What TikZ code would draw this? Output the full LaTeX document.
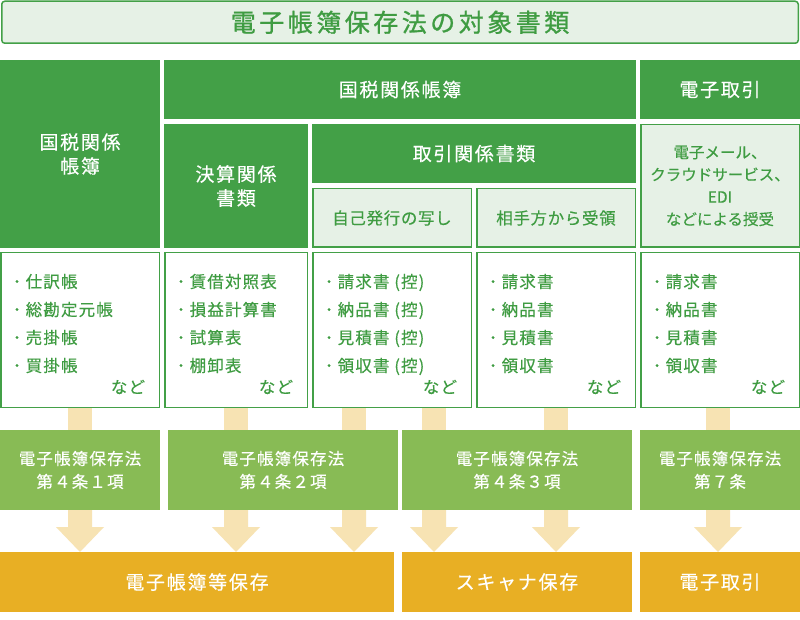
\documentclass[tikz,border=0pt]{standalone}
\usepackage{fontspec}
\setmainfont{Noto Sans CJK JP}[FakeBold=0.4]
\newfontfamily\fttitle[LetterSpace=14,FakeBold=1]{Noto Sans CJK JP}
\newfontfamily\fthead[LetterSpace=9,FakeBold=0.4]{Noto Sans CJK JP}
\newfontfamily\ftbody[LetterSpace=7,FakeBold=0.4]{Noto Sans CJK JP}
\newfontfamily\ftsub[LetterSpace=4,FakeBold=0.4]{Noto Sans CJK JP}
\usetikzlibrary{calc}
\pgfdeclarelayer{background}
\pgfsetlayers{background,main}
\definecolor{dkgreen}{HTML}{43A047}
\definecolor{txtgreen}{HTML}{3F9C42}
\definecolor{ltfill}{HTML}{E6F1E6}
\definecolor{ltgreen}{HTML}{88BB55}
\definecolor{orangec}{HTML}{E8AF24}
\definecolor{tanc}{HTML}{F7E3B3}
\newcommand\fatarrow[3]{%
  \fill[tanc] ($(#2.south -| #1)+(-12,0)$) -- ($(#3.north -| #1)+(-12,-25)$)
    -- ($(#3.north -| #1)+(-24,-25)$) -- (#3.north -| #1)
    -- ($(#3.north -| #1)+(24,-25)$) -- ($(#3.north -| #1)+(12,-25)$)
    -- ($(#2.south -| #1)+(12,0)$) -- cycle;}
\newcommand\stemarrow[3]{%
  \fill[tanc] ($(#2.south -| #1)+(-12,0)$) rectangle ($(#3.north -| #1)+(12,0)$);}
\begin{document}
\begin{tikzpicture}[x=1pt,y=-1pt,
  panel/.style={anchor=north west, inner sep=0pt, outer sep=0pt, align=center},
  dark/.style={panel, fill=dkgreen, text=white, font=\fthead\fontsize{19}{24}\selectfont},
  light/.style={panel, fill=ltfill, draw=dkgreen, line width=1.5pt, text=txtgreen, font=\ftsub\fontsize{16.5}{22.3}\selectfont},
  listbox/.style={panel, fill=white, draw=dkgreen, line width=1.5pt},
  listtxt/.style={anchor=north west, inner sep=0pt, align=left, text=txtgreen, font=\ftbody\fontsize{16.5}{28}\selectfont},
  nado/.style={anchor=base east, inner sep=0pt, text=txtgreen, font=\ftbody\fontsize{16.5}{20}\selectfont},
  law/.style={panel, fill=ltgreen, text=white, font=\ftbody\fontsize{16.5}{23}\selectfont},
  result/.style={panel, fill=orangec, text=white, font=\fthead\fontsize{19}{24}\selectfont}]
\useasboundingbox (0,0) rectangle (800,620);
% title
\node[panel, fill=ltfill, draw=dkgreen, line width=1.5pt, rounded corners=3pt,
  minimum width=796.5pt, minimum height=42pt, text=txtgreen,
  font=\fttitle\fontsize{25}{30}\selectfont] (title) at (1.75,1.25) {電子帳簿保存法の対象書類};
% headers
\node[dark, minimum width=160pt, minimum height=188pt] (h1) at (0,60) {国税関係\\帳簿};
\node[dark, minimum width=472pt, minimum height=59pt] (h2) at (164,60) {国税関係帳簿};
\node[dark, minimum width=160pt, minimum height=59pt] (h3) at (640,60) {電子取引};
\node[dark, minimum width=144pt, minimum height=124pt] (h4) at (164,124) {決算関係\\書類};
\node[dark, minimum width=324pt, minimum height=59pt] (h5) at (312,124) {取引関係書類};
\node[light, minimum width=158.5pt, minimum height=58.5pt] (s1) at (312.75,188.75) {自己発行の写し};
\node[light, minimum width=158.5pt, minimum height=58.5pt] (s2) at (476.75,188.75) {相手方から受領};
\node[light, minimum width=158.5pt, minimum height=122.5pt, font=\fontsize{15.5}{22.3}\selectfont] (s3) at (640.75,124.75) {電子メール、\\クラウドサービス、\\EDI\\などによる授受};
% list boxes
\node[listbox, minimum width=158.5pt, minimum height=154.5pt] (l1) at (0.75,252.75) {};
\node[listbox, minimum width=142.5pt, minimum height=154.5pt] (l2) at (164.75,252.75) {};
\node[listbox, minimum width=158.5pt, minimum height=154.5pt] (l3) at (312.75,252.75) {};
\node[listbox, minimum width=158.5pt, minimum height=154.5pt] (l4) at (476.75,252.75) {};
\node[listbox, minimum width=158.5pt, minimum height=154.5pt] (l5) at (640.75,252.75) {};
\node[listtxt] (t1) at ($(l1.north west)+(12,21)$) {･\hspace{4.5pt}仕訳帳\\･\hspace{4.5pt}総勘定元帳\\･\hspace{4.5pt}売掛帳\\･\hspace{4.5pt}買掛帳};
\node[listtxt] (t2) at ($(l2.north west)+(12,21)$) {･\hspace{4.5pt}賃借対照表\\･\hspace{4.5pt}損益計算書\\･\hspace{4.5pt}試算表\\･\hspace{4.5pt}棚卸表};
\node[listtxt] (t3) at ($(l3.north west)+(12,21)$) {･\hspace{4.5pt}請求書 (控)\\･\hspace{4.5pt}納品書 (控)\\･\hspace{4.5pt}見積書 (控)\\･\hspace{4.5pt}領収書 (控)};
\node[listtxt] (t4) at ($(l4.north west)+(12,21)$) {･\hspace{4.5pt}請求書\\･\hspace{4.5pt}納品書\\･\hspace{4.5pt}見積書\\･\hspace{4.5pt}領収書};
\node[listtxt] (t5) at ($(l5.north west)+(12,21)$) {･\hspace{4.5pt}請求書\\･\hspace{4.5pt}納品書\\･\hspace{4.5pt}見積書\\･\hspace{4.5pt}領収書};
\node[nado] (n1) at ($(l1.north east)+(-14,140.5)$) {など};
\node[nado] (n2) at ($(l2.north east)+(-14,140.5)$) {など};
\node[nado] (n3) at ($(l3.north east)+(-14,140.5)$) {など};
\node[nado] (n4) at ($(l4.north east)+(-14,140.5)$) {など};
\node[nado] (n5) at ($(l5.north east)+(-14,140.5)$) {など};
% law boxes
\node[law, minimum width=160pt, minimum height=80pt] (g1) at (0,430) {電子帳簿保存法\\第４条１項};
\node[law, minimum width=230pt, minimum height=80pt] (g2) at (168,430) {電子帳簿保存法\\第４条２項};
\node[law, minimum width=230pt, minimum height=80pt] (g3) at (402,430) {電子帳簿保存法\\第４条３項};
\node[law, minimum width=160pt, minimum height=80pt] (g4) at (640,430) {電子帳簿保存法\\第７条};
% results
\node[result, minimum width=394pt, minimum height=60pt] (b1) at (0,552) {電子帳簿等保存};
\node[result, minimum width=230pt, minimum height=60pt] (b2) at (402,552) {スキャナ保存};
\node[result, minimum width=160pt, minimum height=60pt] (b3) at (640,552) {電子取引};
% arrows
\coordinate (xa) at (80,0);
\coordinate (xb) at (236,0);
\coordinate (xc) at (354,0);
\coordinate (xd) at (434,0);
\coordinate (xe) at (556,0);
\coordinate (xf) at (718,0);
\begin{pgfonlayer}{background}
\fill[white] (0,0) rectangle (800,620);
\stemarrow{xa}{l1}{g1}
\stemarrow{xb}{l2}{g2}
\stemarrow{xc}{l3}{g2}
\stemarrow{xd}{l3}{g3}
\stemarrow{xe}{l4}{g3}
\stemarrow{xf}{l5}{g4}
\fatarrow{xa}{g1}{b1}
\fatarrow{xb}{g2}{b1}
\fatarrow{xc}{g2}{b1}
\fatarrow{xd}{g3}{b2}
\fatarrow{xe}{g3}{b2}
\fatarrow{xf}{g4}{b3}
\end{pgfonlayer}
\end{tikzpicture}
\end{document}
